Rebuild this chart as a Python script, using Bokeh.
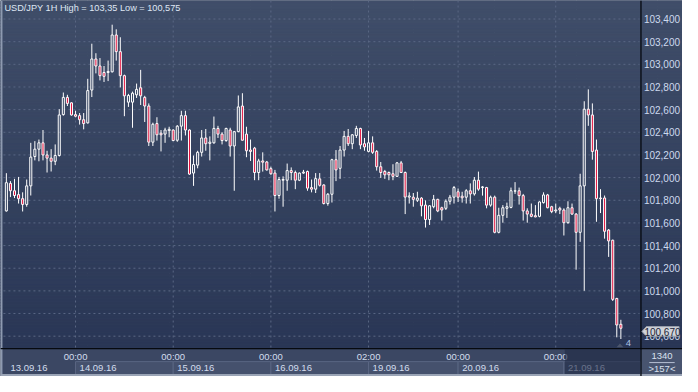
import numpy as np
from bokeh.plotting import figure
from bokeh.models import Range1d
from bokeh.core.properties import value
from bokeh.embed import file_html
from bokeh.resources import INLINE

# ---------------- data (USD/JPY, 1H candles 13.09.16 07:00 -> 21.09.16) ----------------
opens = [101.706, 101.949, 101.884, 101.850, 101.814, 101.763, 101.927, 102.186, 102.251, 102.307,
         102.200, 102.172, 102.144, 102.195, 102.556, 102.708, 102.660, 102.556, 102.547, 102.511,
         102.483, 102.773, 103.047, 102.985, 102.928, 102.928, 102.934, 103.259, 103.112, 102.900,
         102.666, 102.666, 102.731, 102.793, 102.708, 102.632, 102.313, 102.477, 102.392, 102.384,
         102.415, 102.420, 102.330, 102.454, 102.547, 102.420, 102.040, 102.110, 102.223, 102.350,
         102.302, 102.307, 102.434, 102.384, 102.327, 102.420, 102.279, 102.406, 102.632, 102.384,
         102.243, 102.260, 102.045, 102.147, 102.138, 102.079, 102.040, 101.842, 101.977, 101.977,
         102.062, 102.045, 101.977, 102.040, 102.054, 101.912, 101.898, 101.989, 101.935, 101.771,
         101.853, 102.158, 102.082, 102.243, 102.364, 102.299, 102.372, 102.434, 102.299, 102.231,
         102.307, 102.231, 102.096, 102.054, 102.045, 102.034, 102.011, 102.130, 102.045, 101.828,
         101.827, 101.800, 101.819, 101.757, 101.630, 101.743, 101.808, 101.734, 101.729, 101.791,
         101.827, 101.875, 101.836, 101.827, 101.884, 101.856, 101.977, 101.912, 101.912, 101.757,
         101.827, 101.517, 101.667, 101.729, 101.737, 101.880, 101.884, 101.841, 101.706, 101.678,
         101.664, 101.658, 101.779, 101.847, 101.743, 101.706, 101.729, 101.714, 101.602, 101.734,
         101.678, 101.517, 101.927, 102.604, 102.553, 102.243, 101.820, 101.820, 101.537, 101.447,
         100.933, 100.705]
highs = [102.039, 101.969, 101.989, 102.006, 101.870, 101.983, 102.307, 102.322, 102.336, 102.420,
         102.237, 102.251, 102.293, 102.604, 102.751, 102.731, 102.666, 102.590, 102.570, 102.570,
         102.872, 103.182, 103.098, 103.055, 102.985, 103.033, 103.350, 103.309, 103.239, 102.909,
         102.739, 102.759, 102.830, 102.951, 102.722, 102.655, 102.485, 102.533, 102.420, 102.440,
         102.449, 102.426, 102.463, 102.590, 102.590, 102.426, 102.195, 102.237, 102.420, 102.429,
         102.364, 102.539, 102.457, 102.401, 102.440, 102.440, 102.412, 102.725, 102.745, 102.449,
         102.336, 102.271, 102.166, 102.223, 102.147, 102.096, 102.068, 102.006, 102.011, 102.124,
         102.090, 102.062, 102.045, 102.068, 102.062, 101.983, 102.040, 102.040, 101.941, 101.864,
         102.166, 102.243, 102.279, 102.412, 102.429, 102.384, 102.457, 102.440, 102.350, 102.412,
         102.364, 102.243, 102.138, 102.068, 102.054, 102.118, 102.138, 102.147, 102.054, 101.870,
         101.864, 101.875, 101.827, 101.799, 101.757, 101.847, 101.813, 101.743, 101.808, 101.847,
         101.926, 101.904, 101.875, 101.898, 101.949, 102.005, 102.053, 101.926, 101.918, 101.841,
         101.841, 101.734, 101.757, 101.779, 101.912, 101.960, 101.912, 101.856, 101.729, 101.771,
         101.757, 101.791, 101.870, 101.856, 101.751, 101.771, 101.743, 101.729, 101.791, 101.771,
         101.687, 102.034, 102.674, 102.779, 102.655, 102.336, 101.898, 101.842, 101.546, 101.452,
         100.939, 100.745]
lows = [101.700, 101.828, 101.819, 101.771, 101.701, 101.743, 101.842, 102.152, 102.144, 102.152,
        102.045, 102.054, 102.110, 102.186, 102.547, 102.632, 102.547, 102.533, 102.468, 102.426,
        102.477, 102.711, 102.920, 102.858, 102.844, 102.852, 102.928, 103.033, 102.796, 102.542,
        102.624, 102.440, 102.703, 102.641, 102.491, 102.279, 102.279, 102.327, 102.231, 102.307,
        102.356, 102.322, 102.316, 102.327, 102.372, 102.025, 101.927, 102.082, 102.186, 102.237,
        102.152, 102.299, 102.350, 102.293, 102.316, 102.186, 101.884, 102.400, 102.327, 102.180,
        102.147, 101.977, 101.977, 102.053, 102.062, 102.025, 101.701, 101.814, 101.743, 101.884,
        101.977, 101.898, 101.969, 102.034, 101.884, 101.870, 101.864, 101.921, 101.763, 101.752,
        101.780, 101.969, 101.989, 102.186, 102.279, 102.251, 102.350, 102.251, 102.237, 102.223,
        102.209, 102.062, 101.997, 101.989, 101.977, 101.977, 102.006, 102.040, 101.678, 101.771,
        101.743, 101.785, 101.658, 101.559, 101.582, 101.729, 101.695, 101.621, 101.714, 101.762,
        101.771, 101.785, 101.779, 101.771, 101.771, 101.841, 101.884, 101.841, 101.729, 101.743,
        101.508, 101.508, 101.602, 101.644, 101.729, 101.856, 101.762, 101.621, 101.602, 101.650,
        101.650, 101.650, 101.771, 101.729, 101.686, 101.686, 101.678, 101.489, 101.593, 101.672,
        101.187, 101.433, 101.001, 102.457, 102.158, 101.610, 101.687, 101.461, 101.300, 100.911,
        100.590, 100.575]
closes = [101.955, 101.884, 101.842, 101.814, 101.763, 101.927, 102.181, 102.251, 102.307, 102.200,
          102.172, 102.144, 102.195, 102.553, 102.708, 102.655, 102.553, 102.542, 102.511, 102.477,
          102.768, 103.047, 102.985, 102.900, 102.894, 102.937, 103.259, 103.112, 102.900, 102.722,
          102.725, 102.745, 102.779, 102.722, 102.632, 102.313, 102.471, 102.378, 102.378, 102.420,
          102.426, 102.327, 102.454, 102.547, 102.420, 102.031, 102.116, 102.223, 102.350, 102.299,
          102.313, 102.434, 102.384, 102.327, 102.434, 102.279, 102.406, 102.624, 102.330, 102.237,
          102.231, 102.045, 102.147, 102.136, 102.068, 102.034, 101.842, 101.983, 101.983, 102.062,
          102.045, 101.977, 102.040, 102.048, 101.907, 101.898, 101.991, 101.932, 101.771, 101.853,
          102.158, 102.068, 102.243, 102.364, 102.299, 102.378, 102.434, 102.288, 102.271, 102.307,
          102.223, 102.096, 102.045, 102.025, 102.025, 102.011, 102.130, 102.045, 101.828, 101.838,
          101.808, 101.819, 101.751, 101.630, 101.751, 101.808, 101.706, 101.714, 101.791, 101.827,
          101.912, 101.827, 101.822, 101.884, 101.856, 101.977, 101.898, 101.918, 101.757, 101.827,
          101.517, 101.667, 101.734, 101.743, 101.884, 101.884, 101.841, 101.706, 101.678, 101.658,
          101.653, 101.785, 101.847, 101.734, 101.700, 101.714, 101.714, 101.602, 101.734, 101.678,
          101.517, 101.927, 102.604, 102.553, 102.231, 101.814, 101.814, 101.526, 101.441, 100.925,
          100.699, 100.670]

price_ticks = [100.6, 100.8, 101.0, 101.2, 101.4, 101.6, 101.8, 102.0, 102.2, 102.4, 102.6, 102.8,
               103.0, 103.2, 103.4]
price_tick_labels = ["100,600", "100,800", "101,000", "101,200", "101,400", "101,600", "101,800",
                     "102,000", "102,200", "102,400", "102,600", "102,800", "103,000", "103,200",
                     "103,400"]
time_tick_idx = [17, 41, 65, 89, 111, 135]
time_tick_labels = ["00:00", "00:00", "00:00", "02:00", "00:00", "00:00"]
date_start_idx = [0, 17, 41, 65, 89, 111, 137]
date_labels = ["13.09.16", "14.09.16", "15.09.16", "16.09.16", "19.09.16", "20.09.16", "21.09.16"]
symbol_label = "USD/JPY 1H"
bars_total_label = "1340"
bars_visible_label = ">157<"
new_bars_label = "4"


def fmt(v, strip=False):
    s = "%.3f" % v
    if strip:
        s = s.rstrip("0")
    return s.replace(".", ",")


# ---------------- layout helpers ----------------
# reference canvas is 698x392 px; candle i sits at px 6.0 + 4.165*i
X0, DX = 6.0, 4.165
FONT = value("Liberation Sans")
W, H = 682, 376

p = figure(width=W, height=H, title=None,
           x_range=Range1d(-X0 / DX, (698 - X0) / DX),
           y_range=Range1d(103.4 - (392 - 19.3) / 118.1, 103.4 + 19.3 / 118.1),
           output_backend="svg", toolbar_location=None,
           x_axis_location=None, y_axis_location=None,
           min_border=0, outline_line_color=None,
           background_fill_color="#35425f", border_fill_color="#35425f")
p.extra_x_ranges = {"px": Range1d(0, 698)}
p.extra_y_ranges = {"px": Range1d(392, 0)}
PX = dict(x_range_name="px", y_range_name="px")

# background gradient (plot + right price scale)
nb = 121
edges = np.linspace(0, 363, nb + 1)
mids = (edges[:-1] + edges[1:]) / 2 / 363
c_top = np.array([64, 78, 105])
c_bot = np.array([42, 55, 86])
grad = ["#%02x%02x%02x" % tuple(np.round(c_top + (c_bot - c_top) * t).astype(int)) for t in mids]
p.quad(left=0, right=698, top=edges[:-1], bottom=edges[1:], fill_color=grad, line_color=grad,
       line_width=1, **PX)

# bottom time-scale area
p.quad(left=0, right=655, top=363, bottom=392, fill_color="#3b4763", line_color=None, **PX)
p.quad(left=655, right=698, top=363, bottom=392, fill_color="#48546f", line_color=None, **PX)

# date boxes
ds = np.array(date_start_idx, dtype=float)
de = np.append(ds[1:], (655 - X0) / DX)
p.quad(left=ds[1:], right=de[1:], top=[376.5] * (len(ds) - 1), bottom=[390] * (len(ds) - 1),
       fill_color="#45516d", line_color="#5a6683", line_width=1, y_range_name="px")

# grid
p.segment(x0=[3] * len(price_ticks), x1=[654] * len(price_ticks), y0=price_ticks, y1=price_ticks,
          line_color="#5a6784", line_width=1, line_dash="2 3", x_range_name="px")
p.segment(x0=time_tick_idx, x1=time_tick_idx, y0=[0] * len(time_tick_idx), y1=[363] * len(time_tick_idx),
          line_color="#5a6784", line_width=1, line_dash="2 3", y_range_name="px")

# candles
o = np.array(opens); h = np.array(highs); l = np.array(lows); c = np.array(closes)
idx = np.arange(len(o))
btop = np.maximum(o, c)
bbot = np.minimum(o, c)
up = c >= o
p.segment(x0=idx, x1=idx, y0=btop, y1=h, line_color="white", line_width=1)
p.segment(x0=idx, x1=idx, y0=l, y1=bbot, line_color="white", line_width=1)
p.vbar(x=idx, width=0.5, top=btop, bottom=bbot,
       fill_color=np.where(up, "#35425f", "#e3123e").tolist(),
       fill_alpha=np.where(up, 0.0, 1.0).tolist(),
       line_color="white", line_width=1)

# frame lines
p.quad(left=0, right=2, top=0, bottom=392, fill_color="#8e9ab0", line_color=None, **PX)
p.quad(left=0, right=698, top=389.5, bottom=392, fill_color="#9aa4b6", line_color=None, **PX)
p.segment(x0=[0], x1=[698], y0=[363], y1=[363], line_color="#06090f", line_width=1.3, **PX)
p.segment(x0=[655.5], x1=[655.5], y0=[0], y1=[392], line_color="#06090f", line_width=1.3, **PX)

# title
title_text = "%s High = %s Low = %s" % (symbol_label, fmt(max(highs), True), fmt(min(lows), True))
p.text(x=[4], y=[7.5], text=[title_text], text_font=FONT, text_font_size="9.2px",
       text_color="#dfe7f4", text_baseline="middle", text_align="left", **PX)

# price labels (right scale)
p.text(x=[658.5] * len(price_ticks), y=price_ticks, text=price_tick_labels, text_font=FONT,
       text_font_size="10px", text_color="#cdd9ee", text_baseline="middle", text_align="left",
       x_range_name="px")

# time labels and date labels
p.text(x=time_tick_idx, y=[371] * len(time_tick_idx), text=time_tick_labels, text_font=FONT,
       text_font_size="9.5px", text_color="#d3ddee", text_baseline="middle", text_align="center",
       y_range_name="px")
p.text(x=(ds + 1.0).tolist(), y=[383] * len(ds), text=date_labels, text_font=FONT,
       text_font_size="9.5px", text_color="#d3ddee", text_baseline="middle", text_align="left",
       y_range_name="px")

# darker shade over the current day on the time scale
p.quad(left=577.5, right=655, top=363.6, bottom=389.5, fill_color="#1f2a44", fill_alpha=0.6,
       line_color=None, **PX)

# bottom-right counters
p.text(x=[677], y=[371], text=[bars_total_label], text_font=FONT, text_font_size="9.5px",
       text_color="#d8e0ee", text_baseline="middle", text_align="center", **PX)
p.segment(x0=[664], x1=[690], y0=[377.5], y1=[377.5], line_color="#b7c1d3", line_width=1, **PX)
p.text(x=[677], y=[384], text=[bars_visible_label], text_font=FONT, text_font_size="9.5px",
       text_color="#d8e0ee", text_baseline="middle", text_align="center", **PX)

# new bars marker
p.patch(x=[630.5, 634, 637.5], y=[361.5, 357.5, 361.5], fill_color="#4c566c", line_color=None, **PX)
p.text(x=[640], y=[357], text=[new_bars_label], text_font=FONT, text_font_size="9.5px",
       text_color="#a9c2e6", text_baseline="middle", text_align="left", **PX)

# last price marker
p.patch(x=[656.5, 661, 694.5, 694.5, 661], y=[345, 340, 340, 350, 350],
        fill_color="#cfd3da", line_color="#9aa0ab", line_width=1, **PX)
p.text(x=[677.5], y=[345.2], text=[fmt(closes[-1])], text_font=FONT, text_font_size="10px",
       text_color="#1b2335", text_baseline="middle", text_align="center", **PX)

open("out.html", "w").write(file_html(p, INLINE))
